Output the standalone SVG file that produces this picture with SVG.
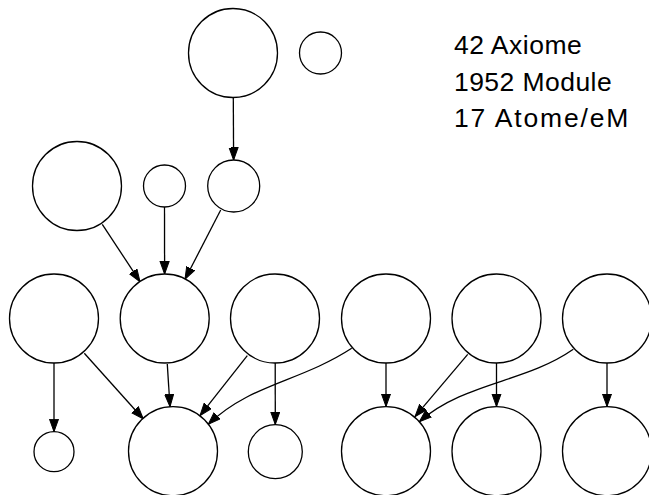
<svg xmlns="http://www.w3.org/2000/svg" width="649" height="495" viewBox="0 0 649 495">
<style>
.n{fill:#fff;stroke:#000;stroke-width:1.3}
.e{fill:none;stroke:#000;stroke-width:1.3}
.t{font-family:"Liberation Sans",Arial,sans-serif;font-size:26.5px;fill:#000}
</style>
<defs>
<marker id="a" markerUnits="userSpaceOnUse" markerWidth="13" markerHeight="11" refX="12.5" refY="5" orient="auto">
<path d="M0,0.5 L12.5,5 L0,9.5 z" fill="#000" stroke="#000" stroke-width="1"/>
</marker>
</defs>
<g id="edges">
<path class="e" marker-end="url(#a)" d="M233.3,97.5 L233.6,160"/>
<path class="e" marker-end="url(#a)" d="M102.3,224.3 L140,281.7"/>
<path class="e" marker-end="url(#a)" d="M164.5,207 L164.6,274"/>
<path class="e" marker-end="url(#a)" d="M220.7,210 L185,279.3"/>
<path class="e" marker-end="url(#a)" d="M54,363 L54,431.7"/>
<path class="e" marker-end="url(#a)" d="M84.3,353.3 L143.3,419"/>
<path class="e" marker-end="url(#a)" d="M167.3,364 L170,406.7"/>
<path class="e" marker-end="url(#a)" d="M247.3,355.7 L200,415.7"/>
<path class="e" marker-end="url(#a)" d="M275.2,363 L275.3,424.5"/>
<path class="e" marker-end="url(#a)" d="M351.7,348.3 C300,382 250,384 208.3,424.3"/>
<path class="e" marker-end="url(#a)" d="M386,363 L386,406.5"/>
<path class="e" marker-end="url(#a)" d="M467.7,354.3 L415,416.7"/>
<path class="e" marker-end="url(#a)" d="M573.3,349.3 C525,383 465,382 419.3,421.7"/>
<path class="e" marker-end="url(#a)" d="M496.5,363 L496.5,406.5"/>
<path class="e" marker-end="url(#a)" d="M607,363 L607,406.5"/>
</g>
<g id="n0"><circle class="n" cx="233" cy="53" r="44.5"/></g>
<g id="n1"><circle class="n" cx="320.5" cy="53" r="21"/></g>
<g id="n2"><circle class="n" cx="77" cy="186" r="44.5"/></g>
<g id="n3"><circle class="n" cx="164.5" cy="186" r="21"/></g>
<g id="n4"><circle class="n" cx="233.7" cy="186" r="26"/></g>
<g id="n5"><circle class="n" cx="54" cy="318.5" r="44.5"/></g>
<g id="n6"><circle class="n" cx="164.7" cy="318.5" r="44.5"/></g>
<g id="n7"><circle class="n" cx="275" cy="318.5" r="44.5"/></g>
<g id="n8"><circle class="n" cx="386" cy="318.5" r="44.5"/></g>
<g id="n9"><circle class="n" cx="496.5" cy="318.5" r="44.5"/></g>
<g id="n10"><circle class="n" cx="607" cy="318.5" r="44.5"/></g>
<g id="n11"><circle class="n" cx="54" cy="451.7" r="20"/></g>
<g id="n12"><circle class="n" cx="173" cy="451.2" r="44.5"/></g>
<g id="n13"><circle class="n" cx="275.3" cy="451.7" r="27"/></g>
<g id="n14"><circle class="n" cx="386" cy="451.2" r="44.5"/></g>
<g id="n15"><circle class="n" cx="496.5" cy="451.2" r="44.5"/></g>
<g id="n16"><circle class="n" cx="607" cy="451.2" r="44.5"/></g>
<g id="legend">
<text class="t" x="454" y="54.3" textLength="127.7" lengthAdjust="spacing">42 Axiome</text>
<text class="t" x="454" y="91" textLength="157.7" lengthAdjust="spacing">1952 Module</text>
<text class="t" x="454" y="126.7" textLength="174.3" lengthAdjust="spacing">17 Atome/eM</text>
</g>
</svg>
